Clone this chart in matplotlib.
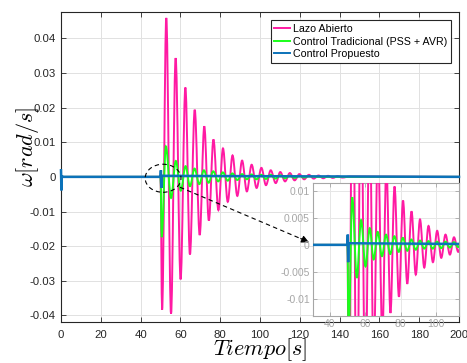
import matplotlib

matplotlib.use("Agg")
import matplotlib.pyplot as plt
from matplotlib.lines import Line2D
from matplotlib.patches import Ellipse, PathPatch
from matplotlib.path import Path

# peaks and troughs: time [s], speed deviation [rad/s]
open_t = [0.0, 50.0, 50.8, 52.9, 55.3, 57.6, 60.1, 62.5, 64.8, 67.2, 69.7,
          72.0, 74.3, 76.6, 79.1, 81.4, 83.8, 86.2, 88.6, 91.0, 93.4, 95.8,
          98.3, 100.7, 103.0, 105.4, 107.9, 110.2, 112.6, 115.0, 117.4,
          119.8, 122.2, 124.6, 127.0, 129.4, 131.8, 134.2, 136.6, 139.0,
          141.4, 145.0, 200.0]
open_w = [0.0, 0.0, -0.0384, 0.0459, -0.0395, 0.0343, -0.0296, 0.0258,
          -0.0224, 0.0194, -0.0168, 0.0146, -0.0126, 0.0108, -0.0096, 0.0082,
          -0.0072, 0.0062, -0.0055, 0.0047, -0.0042, 0.0035, -0.0032, 0.0026,
          -0.0024, 0.0019, -0.0018, 0.0014, -0.0013, 0.0011, -0.0010, 0.0008,
          -0.0007, 0.0006, -0.0005, 0.0004, -0.0004, 0.0003, -0.0003, 0.0002,
          -0.0002, 0.0001, 0.0]

pss_t = [0.0, 50.0, 50.6, 52.7, 55.3, 57.7, 60.2, 62.6, 64.8, 67.1, 69.5,
         71.8, 74.2, 76.5, 79.0, 81.3, 83.8, 86.1, 88.6, 91.0, 93.4, 95.8,
         98.2, 100.6, 103.0, 105.4, 107.8, 110.2, 112.6, 115.0, 117.4, 119.8,
         122.2, 124.6, 128.0, 200.0]
pss_w = [0.0, 0.0, -0.0174, 0.0088, -0.0061, 0.0046, -0.0040, 0.0031,
         -0.0027, 0.0024, -0.0021, 0.0019, -0.0017, 0.0016, -0.0013, 0.0013,
         -0.0011, 0.0010, -0.0009, 0.0008, -0.0007, 0.0007, -0.0007, 0.0006,
         -0.0006, 0.0006, -0.0005, 0.0005, -0.0004, 0.0004, -0.0003, 0.0003,
         -0.0002, 0.0002, 0.0, 0.0]

prop_t = [0.0, 0.2, 0.4, 0.6, 50.0, 50.2, 50.4, 50.6, 200.0]
prop_w = [0.0019, -0.0039, 0.0004, 0.0, 0.0, 0.0019, -0.0032, 0.0003, 0.0]

labels = ["Lazo Abierto", "Control Tradicional (PSS + AVR)", "Control Propuesto"]
colors = ["#ff1aa3", "#1aff1a", "#0b72b9"]

xticks = [0, 20, 40, 60, 80, 100, 120, 140, 160, 180, 200]
yticks = [-0.04, -0.03, -0.02, -0.01, 0.0, 0.01, 0.02, 0.03, 0.04]
ytick_labels = ["-0.04", "-0.03", "-0.02", "-0.01", "0",
                "0.01", "0.02", "0.03", "0.04"]
inset_xticks = [40, 60, 80, 100]
inset_yticks = [-0.01, -0.005, 0.0, 0.005, 0.01]
inset_ytick_labels = ["-0.01", "-0.005", "0", "0.005", "0.01"]

plt.rcParams["font.family"] = ["Liberation Sans", "DejaVu Sans"]
plt.rcParams["mathtext.fontset"] = "cm"


def wave_path(t, w, k=0.36):
    """Smooth path through the extrema, flat tangent at each one."""
    verts = [(t[0], w[0])]
    codes = [Path.MOVETO]
    for i in range(1, len(t)):
        d = t[i] - t[i - 1]
        verts += [(t[i - 1] + k * d, w[i - 1]), (t[i] - k * d, w[i]), (t[i], w[i])]
        codes += [Path.CURVE4] * 3
    return Path(verts, codes)


def draw_series(ax, lw_scale=1.0, clip_blue=True):
    ax.add_patch(PathPatch(wave_path(open_t, open_w), fill=False,
                           edgecolor=colors[0], lw=1.4 * lw_scale, zorder=3))
    ax.add_patch(PathPatch(wave_path(pss_t, pss_w), fill=False,
                           edgecolor=colors[1], lw=1.4 * lw_scale, zorder=4))
    ax.plot(prop_t, prop_w, color=colors[2], lw=1.8 * lw_scale, zorder=5,
            clip_on=clip_blue, solid_joinstyle="miter")


fig = plt.figure(figsize=(4.67, 3.63), dpi=100)
ax = fig.add_axes([61 / 467, 1 - 322 / 363, 398 / 467, 310 / 363])
draw_series(ax, clip_blue=False)

ax.set_xlim(0, 200)
ax.set_ylim(-0.0419, 0.0476)
ax.set_xticks(xticks)
ax.set_yticks(yticks)
ax.set_yticklabels(ytick_labels)
ax.grid(True, color="#e1e1e1", lw=0.7)
ax.set_axisbelow(True)
for s in ax.spines.values():
    s.set_color("#262626")
    s.set_linewidth(0.8)
ax.tick_params(direction="in", length=3.5, width=0.6, top=True, right=True,
               labelsize=8.2, colors="#262626")
ax.tick_params(axis="x", pad=5.5)
ax.tick_params(axis="y", pad=4)

ax.set_xlabel(r"$Tiempo[s]$", fontsize=16, va="center")
ax.xaxis.set_label_coords(0.501, -0.09)
ax.set_ylabel(r"$\omega[rad/s]$", fontsize=16, va="center")
ax.yaxis.set_label_coords(-0.085, 0.565)

# zoom marker and pointer to the inset
ax.add_patch(Ellipse((51.3, -0.0004), width=18, height=0.0081, fill=False,
                     ls=(0, (4, 3)), lw=0.8, color="k", zorder=6))
ax.plot([59.8, 122.0], [-0.0030, -0.0182], ls=(0, (4, 3)), lw=0.8, color="k",
        zorder=6, clip_on=False)
ax.annotate("", xy=(124.6, -0.0189), xytext=(120.5, -0.0178),
            arrowprops=dict(arrowstyle="-|>", color="k", lw=0.8,
                            mutation_scale=11, shrinkA=0, shrinkB=0),
            zorder=6)

handles = [Line2D([], [], color=c, lw=1.4) for c in colors]
ax.legend(handles, labels, loc="upper right", bbox_to_anchor=(0.98, 0.9726),
          borderaxespad=0, fontsize=7.7, handlelength=1.5, handletextpad=0.25,
          borderpad=0.35, labelspacing=0.22, fancybox=False, framealpha=1,
          edgecolor="#262626").get_frame().set_linewidth(0.8)

# inset
axi = fig.add_axes([313.3 / 467, 1 - 315.7 / 363, 146 / 467, 133 / 363])
draw_series(axi, lw_scale=1.0)
axi.set_xlim(30.7, 113.2)
axi.set_ylim(-0.0131, 0.0115)
axi.set_xticks(inset_xticks)
axi.set_yticks(inset_yticks)
axi.set_yticklabels(inset_ytick_labels)
axi.grid(True, color="#e6e6e6", lw=0.7)
axi.set_axisbelow(True)
for s in axi.spines.values():
    s.set_color("#a6a6a6")
    s.set_linewidth(0.8)
axi.tick_params(direction="in", length=3, width=0.6, top=True, right=True,
                labelsize=7.5, colors="#a6a6a6", pad=2.5)

fig.savefig("out.png", dpi=100)
